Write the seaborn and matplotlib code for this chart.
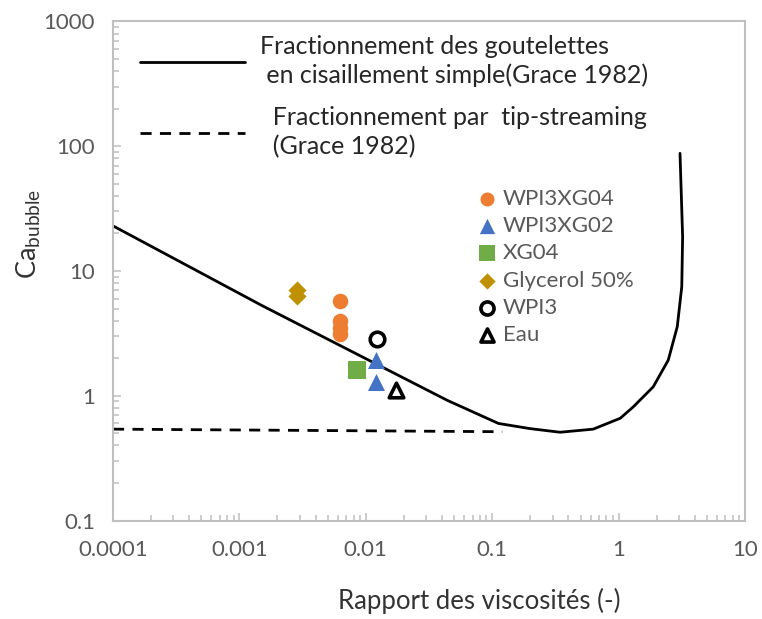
import matplotlib
matplotlib.use("Agg")
import matplotlib.pyplot as plt
import seaborn as sns

# ==========================================
# DATA
# ==========================================
# Grace (1982) break-up curve, simple shear
curve_x = [0.0001, 0.0015, 0.044, 0.112, 0.2, 0.344, 0.63, 1.03, 1.31, 1.48, 1.88, 2.47, 2.91, 3.16, 3.21, 3.06]
curve_y = [23, 5.3, 0.92, 0.60, 0.545, 0.51, 0.54, 0.66, 0.817, 0.925, 1.18, 1.93, 3.57, 7.48, 18.8, 87.7]

# Grace (1982) tip-streaming
tip_x = [0.0001, 0.12]
tip_y = [0.54, 0.515]

# measured points
wpi3xg04_x = [0.00625, 0.00625, 0.00625, 0.00625]
wpi3xg04_y = [5.8, 4.0, 3.5, 3.1]
wpi3xg02_x = [0.0121, 0.0121]
wpi3xg02_y = [1.93, 1.30]
xg04_x = [0.00847]
xg04_y = [1.61]
glycerol_x = [0.00287, 0.00287]
glycerol_y = [7.0, 6.3]
wpi3_x = [0.0123]
wpi3_y = [2.83]
eau_x = [0.0173]
eau_y = [1.11]

x_ticks = [0.0001, 0.001, 0.01, 0.1, 1, 10]
x_tick_labels = ["0.0001", "0.001", "0.01", "0.1", "1", "10"]
y_ticks = [0.1, 1, 10, 100, 1000]
y_tick_labels = ["0.1", "1", "10", "100", "1000"]

# ==========================================
# STYLE
# ==========================================
sns.set_theme(style="white")
plt.rcParams["font.family"] = ["Lato", "DejaVu Sans"]
plt.rcParams["mathtext.fontset"] = "custom"
plt.rcParams["mathtext.rm"] = "Lato"
plt.rcParams["mathtext.it"] = "Lato:italic"

GRID_GREY = "#BFBFBF"
TICK_TXT = "#595959"

fig = plt.figure(figsize=(7.62, 6.19), dpi=100)
ax = fig.add_axes([0.1483, 0.1591, 0.8294, 0.8062])

# ==========================================
# LINES
# ==========================================
sns.lineplot(x=curve_x, y=curve_y, sort=False, estimator=None, color="black", linewidth=2.0,
             ax=ax, label="Fractionnement des goutelettes\n en cisaillement simple(Grace 1982)")
sns.lineplot(x=tip_x, y=tip_y, sort=False, estimator=None, color="black", linewidth=2.0,
             ax=ax, label="  Fractionnement par  tip-streaming\n  (Grace 1982)")
ax.lines[1].set_dashes([4, 3])

# ==========================================
# POINTS
# ==========================================
series = [
    ("WPI3XG04", wpi3xg04_x, wpi3xg04_y, "o", 125, "#ED7D31", "#ED7D31", 0),
    ("WPI3XG02", wpi3xg02_x, wpi3xg02_y, "^", 150, "#4472C4", "#4472C4", 0),
    ("XG04", xg04_x, xg04_y, "s", 180, "#70AD47", "#70AD47", 0),
    ("Glycerol 50%", glycerol_x, glycerol_y, "D", 85, "#BF9000", "#BF9000", 0),
    ("WPI3", wpi3_x, wpi3_y, "o", 110, "white", "black", 2.6),
    ("Eau", eau_x, eau_y, "^", 110, "white", "black", 2.6),
]
for name, xs, ys, mk, size, face, edge, lw in series:
    sns.scatterplot(x=xs, y=ys, marker=mk, s=size, color=face, edgecolor=edge,
                    linewidth=lw, label=name, ax=ax, zorder=3)

# ==========================================
# AXES
# ==========================================
ax.set_xscale("log")
ax.set_yscale("log")
ax.set_xlim(1e-4, 10)
ax.set_ylim(0.1, 1000)
ax.set_xticks(x_ticks)
ax.set_xticklabels(x_tick_labels)
ax.set_yticks(y_ticks)
ax.set_yticklabels(y_tick_labels)

for side in ["left", "right", "top", "bottom"]:
    ax.spines[side].set_visible(True)
    ax.spines[side].set_color(GRID_GREY)
    ax.spines[side].set_linewidth(1.5)

ax.tick_params(which="both", direction="in", color=GRID_GREY, width=1.1,
               labelcolor=TICK_TXT, labelsize=16)
ax.tick_params(which="major", length=5.5)
ax.tick_params(which="minor", length=4.3)
ax.tick_params(axis="x", which="both", bottom=True, top=False, pad=14)
ax.tick_params(axis="y", which="both", left=True, right=False, pad=13)

ax.set_xlabel("Rapport des viscosités (-)", fontsize=18.5, color="#333333")
ax.xaxis.set_label_coords(0.58, -0.135)
ax.set_ylabel(r"$\mathregular{Ca_{bubble}}$", fontsize=19.5, color="#333333")
ax.yaxis.set_label_coords(-0.11, 0.575)

# ==========================================
# LEGENDS
# ==========================================
handles, labels = ax.get_legend_handles_labels()
leg_lines = ax.legend(handles[:2], labels[:2], loc="upper left", bbox_to_anchor=(0.043, 0.973),
                      frameon=False, fontsize=18, handlelength=4.2, handletextpad=0.6,
                      labelspacing=0.75, borderpad=0, borderaxespad=0)
for t in leg_lines.get_texts():
    t.set_linespacing(1.3)
ax.add_artist(leg_lines)

leg_pts = ax.legend(handles[2:], labels[2:], loc="upper left", bbox_to_anchor=(0.578, 0.665),
                    frameon=False, fontsize=16, handlelength=0.8, handletextpad=0.3,
                    labelspacing=0.33, borderpad=0, borderaxespad=0, markerscale=0.9)
for t in leg_pts.get_texts():
    t.set_color(TICK_TXT)

fig.savefig("out.png", dpi=100)
